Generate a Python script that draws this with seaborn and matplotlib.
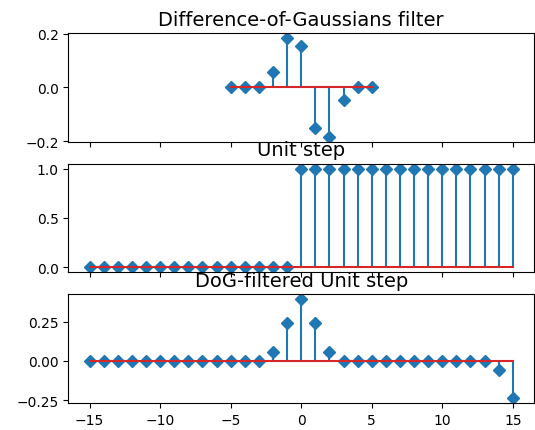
import numpy as np
import matplotlib
matplotlib.use("Agg")
import matplotlib.pyplot as plt
import seaborn as sns

# Difference-of-Gaussians kernel, sampled at -5..5
dog_x = np.arange(-5, 6)
dog_vals = [0.0, 0.0, 0.0, 0.056, 0.184, 0.156, -0.152, -0.184, -0.048, 0.0, 0.0]

# unit step on -15..15
step_x = np.arange(-15, 16)
step_vals = [0] * 15 + [1] * 16

# step after filtering with the kernel
filt_vals = [0.0] * 13 + [0.058, 0.24, 0.395, 0.24, 0.058] + [0.0] * 11 + [-0.056, -0.236]

titles = ["Difference-of-Gaussians filter", "Unit step", "DoG-filtered Unit step"]

pal = sns.color_palette("tab10")

fig, axes = plt.subplots(3, 1, sharex=True, figsize=(5.35, 4.31), dpi=100)
fig.subplots_adjust(left=0.128, right=0.998, top=0.921, bottom=0.063, hspace=0.2)

series = [(dog_x, dog_vals), (step_x, step_vals), (step_x, filt_vals)]
for ax, (x, y), title in zip(axes, series, titles):
    markerline, stemlines, baseline = ax.stem(x, y, markerfmt="D")
    markerline.set_color(pal[0])
    markerline.set_markersize(6.6)
    stemlines.set_color(pal[0])
    baseline.set_color(pal[3])
    ax.set_title(title, fontsize=14)

axes[2].set_xticks([-15, -10, -5, 0, 5, 10, 15])

plt.savefig("out.png", dpi=100)
